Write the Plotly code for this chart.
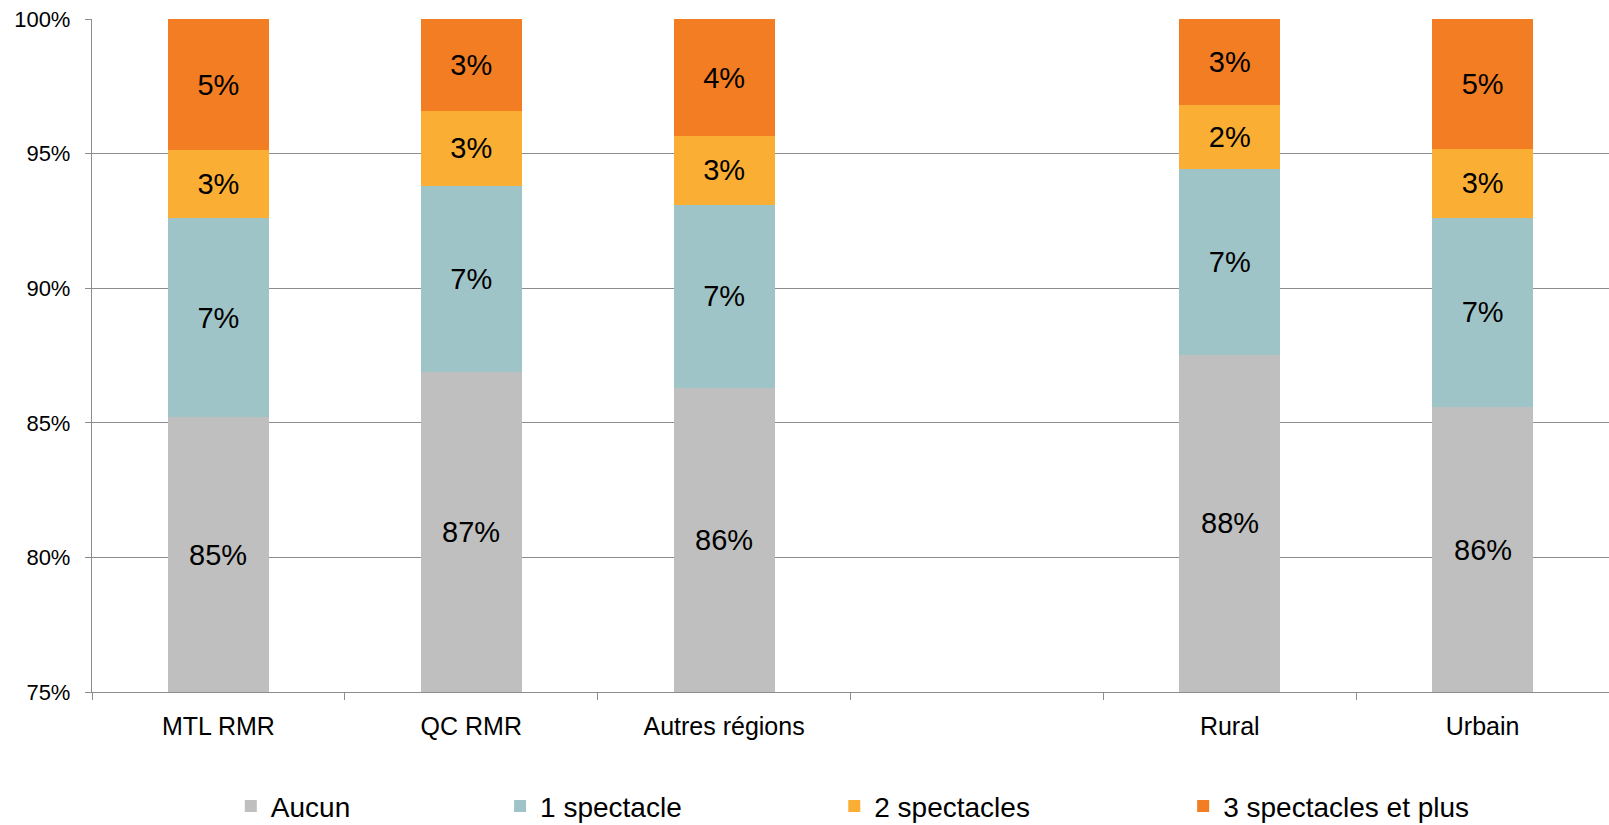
import plotly.graph_objects as go

# catégories (la 4e est une case vide, comme dans le graphique original)
categories = ["MTL RMR", "QC RMR", "Autres régions", " ", "Rural", "Urbain"]

aucun = [85.2, 86.9, 86.3, None, 87.52, 85.58]
un_spectacle = [7.4, 6.9, 6.8, None, 6.89, 7.04]
deux_spectacles = [2.52, 2.8, 2.55, None, 2.39, 2.55]
trois_plus = [4.88, 3.4, 4.35, None, 3.2, 4.83]

series_names = ["Aucun", "1 spectacle", "2 spectacles", "3 spectacles et plus"]
colors = ["#BFBFBF", "#9FC4C7", "#FAAF34", "#F27D22"]

FONT = "Liberation Sans, Arial, sans-serif"
GRID = "#8C8C8C"
y_min = 75

fig = go.Figure()
all_series = [aucun, un_spectacle, deux_spectacles, trois_plus]
for i, (name, vals, col) in enumerate(zip(series_names, all_series, colors)):
    fig.add_trace(go.Bar(
        x=categories, y=vals, name=name,
        marker=dict(color=col, line=dict(width=0)),
        texttemplate="" if i == 0 else "%{y:.0f}%",
        textposition="inside", insidetextanchor="middle", textangle=0,
        insidetextfont=dict(family=FONT, size=29, color="black"),
        legend="legend" if i == 0 else "legend%d" % (i + 1),
    ))

# étiquettes de la série "Aucun" centrées sur la partie visible de la barre
for c, v in zip(categories, aucun):
    if v is None:
        continue
    fig.add_annotation(x=c, y=(y_min + v) / 2, text="%.0f%%" % v, showarrow=False,
                       font=dict(family=FONT, size=29, color="black"))

legend_x = [0.0915, 0.2690, 0.4893, 0.7193]
leg = {}
for i, lx in enumerate(legend_x):
    key = "legend" if i == 0 else "legend%d" % (i + 1)
    leg[key] = dict(x=lx, y=-0.170, xanchor="left", yanchor="middle",
                    orientation="h", bgcolor="rgba(0,0,0,0)",
                    font=dict(family=FONT, size=28, color="black"))

fig.update_layout(
    barmode="stack",
    bargap=0.6,
    width=1609, height=825,
    margin=dict(l=92, r=0, t=19, b=133, autoexpand=False),
    paper_bgcolor="white", plot_bgcolor="white",
    font=dict(family=FONT, color="black"),
    showlegend=True,
    **leg,
)
fig.update_xaxes(
    type="category", categoryorder="array", categoryarray=categories,
    tickson="boundaries", ticks="outside", ticklen=7, tickcolor=GRID,
    showline=True, linecolor=GRID, linewidth=1.3, showgrid=False,
    tickfont=dict(family=FONT, size=25, color="black"),
    ticklabelstandoff=12, automargin=False,
)
fig.update_yaxes(
    range=[75, 100], dtick=5, ticksuffix="%",
    showgrid=True, gridcolor=GRID, gridwidth=1.3,
    showline=True, linecolor=GRID, linewidth=1.3,
    ticks="outside", ticklen=6, tickcolor=GRID,
    tickfont=dict(family=FONT, size=22, color="black"),
    ticklabelstandoff=10, zeroline=False, automargin=False,
)

# pas de marge autour de la figure dans la page, pas de barre d'outils
fig.write_html("out.html",
               config={"displayModeBar": False},
               post_script="document.body.style.margin='0';"
                           "document.body.style.overflow='hidden';")
